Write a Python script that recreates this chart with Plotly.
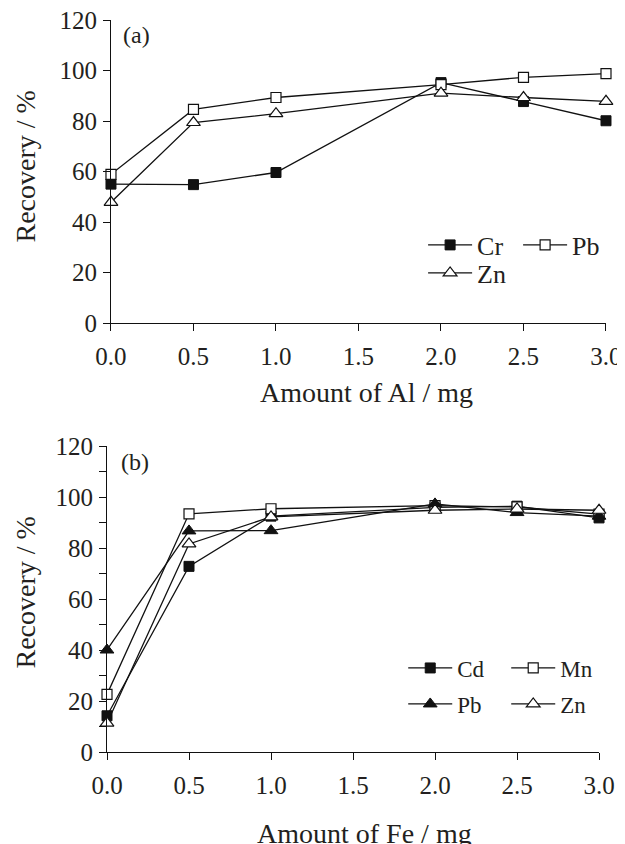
import plotly.graph_objects as go

# ---- data ----
al_amount = [0.0, 0.5, 1.0, 2.0, 2.5, 3.0]
a_cr = [55.0, 54.8, 59.6, 95.2, 87.7, 80.1]
a_pb = [58.9, 84.6, 89.3, 94.4, 97.3, 98.8]
a_zn = [47.8, 79.4, 82.9, 91.0, 89.3, 87.8]

fe_amount = [0.0, 0.5, 1.0, 2.0, 2.5, 3.0]
b_cd = [14.2, 72.8, 92.5, 95.9, 96.4, 91.8]
b_mn = [22.6, 93.4, 95.4, 96.6, 96.1, 93.3]
b_pb = [40.0, 86.7, 86.8, 97.3, 93.9, 92.5]
b_zn = [11.3, 81.6, 92.2, 94.8, 95.3, 94.8]

x_ticks = [0.0, 0.5, 1.0, 1.5, 2.0, 2.5, 3.0]
y_ticks = [0, 20, 40, 60, 80, 100, 120]

FONT = "Liberation Serif, Times New Roman, serif"
TXT = "#231f20"
OFF = 8  # page body margin
W, H = 625 - OFF, 844 - OFF
ML, MR, MT, MB = 99, 16, 12, 92
PW, PH = W - ML - MR, H - MT - MB


def px(x):
    """screen x (reference pixels) -> paper fraction"""
    return (x - OFF - ML) / PW


def py(y):
    """screen y (reference pixels) -> paper fraction"""
    return (H - MB - (y - OFF)) / PH


fig = go.Figure()

sq_fill = dict(symbol="square", size=10, color="#111111", line=dict(color="#111111", width=1))
sq_open = dict(symbol="square", size=10, color="white", line=dict(color="#111111", width=1.2))
tri_open = dict(symbol="triangle-up", size=12, color="white", line=dict(color="#111111", width=1.2))
tri_fill = dict(symbol="triangle-up", size=12, color="#111111", line=dict(color="#111111", width=1))
LN = dict(color="#111111", width=1.3)

# panel (a)
fig.add_trace(go.Scatter(x=al_amount, y=a_cr, name="Cr", mode="lines+markers", line=LN,
                         marker=sq_fill, xaxis="x", yaxis="y", legend="legend", cliponaxis=False))
fig.add_trace(go.Scatter(x=al_amount, y=a_pb, name="Pb", mode="lines+markers", line=LN,
                         marker=sq_open, xaxis="x", yaxis="y", legend="legend", cliponaxis=False))
fig.add_trace(go.Scatter(x=al_amount, y=a_zn, name="Zn", mode="lines+markers", line=LN,
                         marker=tri_open, xaxis="x", yaxis="y", legend="legend2", cliponaxis=False))

# panel (b)
fig.add_trace(go.Scatter(x=fe_amount, y=b_cd, name="Cd", mode="lines+markers", line=LN,
                         marker=sq_fill, xaxis="x2", yaxis="y2", legend="legend3", cliponaxis=False))
fig.add_trace(go.Scatter(x=fe_amount, y=b_mn, name="Mn", mode="lines+markers", line=LN,
                         marker=sq_open, xaxis="x2", yaxis="y2", legend="legend3", cliponaxis=False))
fig.add_trace(go.Scatter(x=fe_amount, y=b_pb, name="Pb", mode="lines+markers", line=LN,
                         marker=tri_fill, xaxis="x2", yaxis="y2", legend="legend4", cliponaxis=False))
fig.add_trace(go.Scatter(x=fe_amount, y=b_zn, name="Zn", mode="lines+markers", line=LN,
                         marker=tri_open, xaxis="x2", yaxis="y2", legend="legend4", cliponaxis=False))

tickfont = dict(family=FONT, size=25, color=TXT)
common_x = dict(range=[0, 3.0], tickvals=x_ticks, tickformat=".1f", showline=True, linecolor="#111111",
                linewidth=1.2, ticks="outside", ticklen=7, tickwidth=1.2, tickcolor="#111111",
                showgrid=False, zeroline=False, tickfont=tickfont, automargin=False, ticklabelstandoff=4,
                ticklabeloverflow="allow")
common_y = dict(range=[0, 120], tickvals=y_ticks, showline=True, linecolor="#111111", linewidth=1.2,
                ticks="outside", ticklen=7, tickwidth=1.2, tickcolor="#111111", showgrid=False,
                zeroline=False, tickfont=tickfont, automargin=False, ticklabelstandoff=1,
                ticklabeloverflow="allow")

leg_a = dict(family=FONT, size=26, color=TXT)
leg_b = dict(family=FONT, size=23, color=TXT)
legcommon = dict(orientation="h", xanchor="left", yanchor="middle", bgcolor="rgba(0,0,0,0)",
                 borderwidth=0, itemwidth=44, entrywidthmode="pixels", tracegroupgap=0)

fig.update_layout(
    width=W, height=H,
    margin=dict(l=ML, r=MR, t=MT, b=MB),
    paper_bgcolor="white", plot_bgcolor="white",
    xaxis=dict(domain=[px(111), px(609)], anchor="y", **common_x),
    yaxis=dict(domain=[py(323), py(20)], anchor="x", **common_y),
    xaxis2=dict(domain=[px(107), px(602)], anchor="y2", **common_x),
    yaxis2=dict(domain=[py(752), py(446)], anchor="x2",
                minor=dict(dtick=10, ticks="outside", ticklen=7, tickwidth=1.2, tickcolor="#111111"),
                **common_y),
    legend=dict(x=px(425), y=py(245), font=leg_a, entrywidth=36, **legcommon),
    legend2=dict(x=px(425), y=py(273), font=leg_a, entrywidth=36, **legcommon),
    legend3=dict(x=px(405), y=py(668), font=leg_b, entrywidth=44, **legcommon),
    legend4=dict(x=px(405), y=py(704), font=leg_b, entrywidth=44, **legcommon),
    showlegend=True,
    annotations=[
        dict(text="Amount of Al / mg", x=px(368), y=py(392), xref="paper", yref="paper",
             showarrow=False, xanchor="center", yanchor="middle", font=dict(family=FONT, size=28, color=TXT)),
        dict(text="Amount of Fe / mg", x=px(366), y=py(833), xref="paper", yref="paper",
             showarrow=False, xanchor="center", yanchor="middle", font=dict(family=FONT, size=28, color=TXT)),
        dict(text="Recovery / %", x=px(25), y=py(166), xref="paper", yref="paper", textangle=-90,
             showarrow=False, xanchor="center", yanchor="middle", font=dict(family=FONT, size=28, color=TXT)),
        dict(text="Recovery / %", x=px(25), y=py(592), xref="paper", yref="paper", textangle=-90,
             showarrow=False, xanchor="center", yanchor="middle", font=dict(family=FONT, size=28, color=TXT)),
        dict(text="(a)", x=px(137), y=py(35), xref="paper", yref="paper",
             showarrow=False, xanchor="center", yanchor="middle", font=dict(family=FONT, size=24, color=TXT)),
        dict(text="(b)", x=px(135), y=py(462), xref="paper", yref="paper",
             showarrow=False, xanchor="center", yanchor="middle", font=dict(family=FONT, size=24, color=TXT)),
    ],
)

fig.write_html("out.html")
